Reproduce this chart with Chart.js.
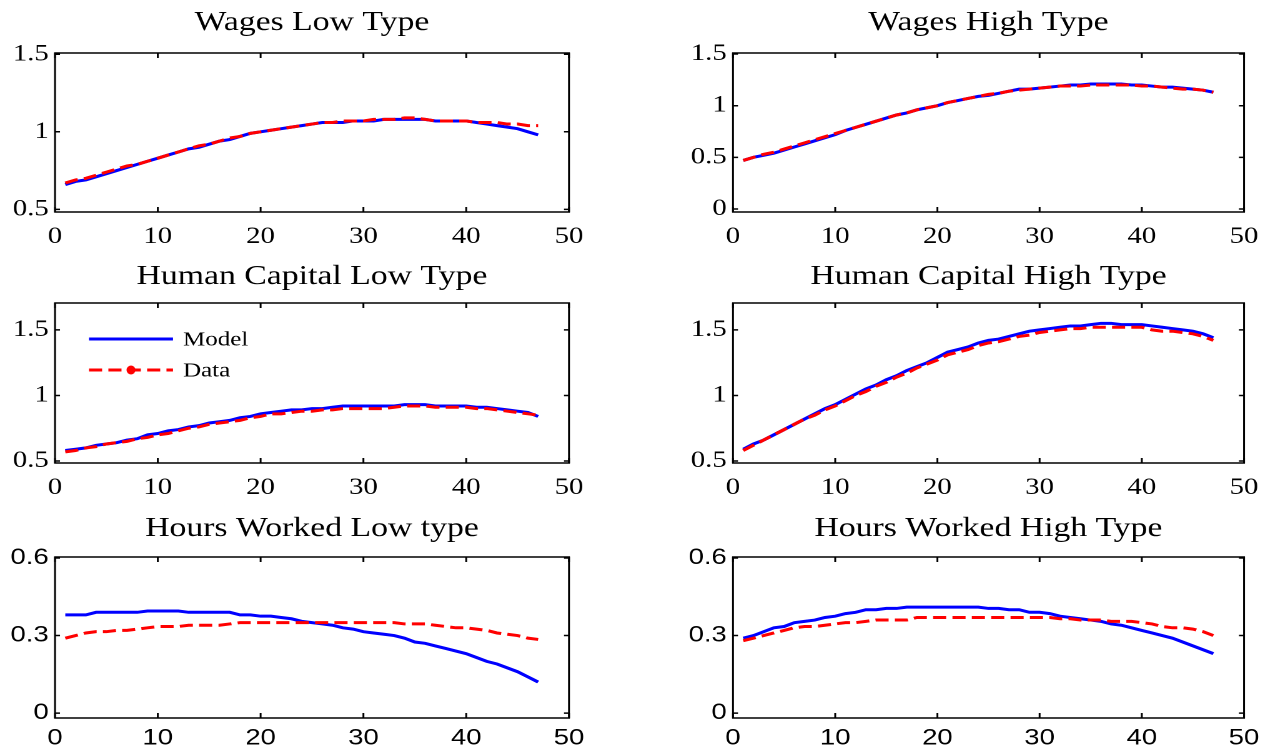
<!DOCTYPE html>
<html>
<head>
<meta charset="utf-8">
<script src="https://cdn.jsdelivr.net/npm/chart.js@4.4.1/dist/chart.umd.min.js"></script>
<style>
  html, body { margin: 0; padding: 0; background: #ffffff; }
  #fig { position: relative; width: 1273px; height: 754px; overflow: hidden; }
  #fig canvas { position: absolute; transform-origin: 0 0; }
</style>
</head>
<body>
<div id="fig"></div>
<script>
// Working-life period index
const periods = [1,2,3,4,5,6,7,8,9,10,11,12,13,14,15,16,17,18,19,20,21,22,23,24,25,26,27,28,29,30,31,32,33,34,35,36,37,38,39,40,41,42,43,44,45,46,47];
const xTicks = [0, 10, 20, 30, 40, 50];

// Wages, low type
const wagesLowModel = [0.66,0.68,0.69,0.71,0.73,0.75,0.77,0.79,0.81,0.83,0.85,0.87,0.89,0.90,0.92,0.94,0.95,0.97,0.99,1.00,1.01,1.02,1.03,1.04,1.05,1.06,1.06,1.06,1.07,1.07,1.07,1.08,1.08,1.08,1.08,1.08,1.07,1.07,1.07,1.07,1.06,1.05,1.04,1.03,1.02,1.00,0.98];
const wagesLowData  = [0.67,0.69,0.70,0.72,0.74,0.76,0.78,0.79,0.81,0.83,0.85,0.87,0.89,0.91,0.92,0.94,0.96,0.97,0.99,1.00,1.01,1.02,1.03,1.04,1.05,1.06,1.06,1.07,1.07,1.07,1.08,1.08,1.08,1.09,1.09,1.08,1.07,1.07,1.07,1.07,1.06,1.06,1.06,1.05,1.05,1.04,1.04];

// Wages, high type
const wagesHighModel = [0.47,0.50,0.52,0.54,0.57,0.60,0.63,0.66,0.69,0.72,0.76,0.79,0.82,0.85,0.88,0.91,0.93,0.96,0.98,1.00,1.03,1.05,1.07,1.09,1.10,1.12,1.14,1.16,1.16,1.17,1.18,1.19,1.20,1.20,1.21,1.21,1.21,1.21,1.20,1.20,1.19,1.18,1.18,1.17,1.16,1.15,1.13];
const wagesHighData  = [0.47,0.50,0.53,0.55,0.58,0.61,0.64,0.67,0.70,0.73,0.76,0.79,0.82,0.85,0.88,0.91,0.93,0.96,0.98,1.00,1.03,1.05,1.07,1.09,1.11,1.12,1.14,1.15,1.16,1.17,1.18,1.19,1.19,1.19,1.20,1.20,1.20,1.20,1.20,1.19,1.19,1.18,1.17,1.16,1.16,1.15,1.13];

// Human capital, low type
const capitalLowModel = [0.58,0.59,0.60,0.62,0.63,0.64,0.66,0.67,0.70,0.71,0.73,0.74,0.76,0.77,0.79,0.80,0.81,0.83,0.84,0.86,0.87,0.88,0.89,0.89,0.90,0.90,0.91,0.92,0.92,0.92,0.92,0.92,0.92,0.93,0.93,0.93,0.92,0.92,0.92,0.92,0.91,0.91,0.90,0.89,0.88,0.87,0.84];
const capitalLowData  = [0.57,0.58,0.60,0.61,0.63,0.64,0.65,0.67,0.68,0.70,0.71,0.73,0.75,0.76,0.78,0.79,0.80,0.81,0.83,0.84,0.86,0.86,0.87,0.88,0.88,0.89,0.89,0.90,0.90,0.90,0.90,0.90,0.91,0.92,0.92,0.92,0.91,0.91,0.91,0.91,0.90,0.90,0.89,0.88,0.87,0.86,0.85];

// Human capital, high type
const capitalHighModel = [0.59,0.63,0.66,0.70,0.74,0.78,0.82,0.86,0.90,0.93,0.97,1.01,1.05,1.08,1.12,1.15,1.19,1.22,1.25,1.29,1.33,1.35,1.37,1.40,1.42,1.43,1.45,1.47,1.49,1.50,1.51,1.52,1.53,1.53,1.54,1.55,1.55,1.54,1.54,1.54,1.53,1.52,1.51,1.50,1.49,1.47,1.44];
const capitalHighData  = [0.58,0.62,0.66,0.70,0.74,0.78,0.82,0.85,0.89,0.92,0.96,1.00,1.03,1.07,1.10,1.14,1.17,1.21,1.24,1.27,1.31,1.33,1.35,1.38,1.40,1.41,1.43,1.45,1.46,1.48,1.49,1.50,1.51,1.51,1.52,1.52,1.52,1.52,1.52,1.52,1.50,1.49,1.49,1.48,1.47,1.45,1.42];

// Hours worked, low type
const hoursLowModel = [0.38,0.38,0.38,0.39,0.39,0.39,0.39,0.39,0.395,0.395,0.395,0.395,0.39,0.39,0.39,0.39,0.39,0.38,0.38,0.375,0.375,0.37,0.365,0.355,0.35,0.345,0.34,0.33,0.325,0.315,0.31,0.305,0.30,0.29,0.275,0.27,0.26,0.25,0.24,0.23,0.215,0.20,0.19,0.175,0.16,0.14,0.12];
const hoursLowData  = [0.29,0.30,0.31,0.315,0.315,0.32,0.32,0.325,0.33,0.335,0.335,0.335,0.34,0.34,0.34,0.34,0.345,0.35,0.35,0.35,0.35,0.35,0.35,0.35,0.35,0.35,0.35,0.35,0.35,0.35,0.35,0.35,0.35,0.345,0.345,0.345,0.34,0.335,0.33,0.33,0.325,0.32,0.31,0.305,0.30,0.29,0.285];

// Hours worked, high type
const hoursHighModel = [0.29,0.30,0.315,0.33,0.335,0.35,0.355,0.36,0.37,0.375,0.385,0.39,0.40,0.40,0.405,0.405,0.41,0.41,0.41,0.41,0.41,0.41,0.41,0.41,0.405,0.405,0.40,0.40,0.39,0.39,0.385,0.375,0.37,0.365,0.36,0.355,0.345,0.34,0.33,0.32,0.31,0.30,0.29,0.275,0.26,0.245,0.23];
const hoursHighData  = [0.28,0.29,0.30,0.31,0.32,0.33,0.335,0.335,0.34,0.345,0.35,0.35,0.355,0.36,0.36,0.36,0.36,0.37,0.37,0.37,0.37,0.37,0.37,0.37,0.37,0.37,0.37,0.37,0.37,0.37,0.37,0.365,0.365,0.36,0.36,0.36,0.355,0.355,0.355,0.35,0.345,0.335,0.33,0.33,0.325,0.315,0.30];

// Y tick labels per panel
const yTicksWagesLow  = [0.5, 1, 1.5];
const yTicksWagesHigh = [0, 0.5, 1, 1.5];
const yTicksCapital   = [0.5, 1, 1.5];
const yTicksHours     = [0, 0.3, 0.6];

const titles = ['Wages Low Type', 'Wages High Type', 'Human Capital Low Type', 'Human Capital High Type', 'Hours Worked Low type', 'Hours Worked High Type'];
const seriesNames = ['Model', 'Data'];

const SERIF = '"Liberation Serif", "Times New Roman", serif';
const SANS = '"Liberation Sans", Arial, sans-serif';

// The figure's text is set wide: each panel is drawn narrower and widened by this factor
const STRETCH = 1.25;

// Panel placement (page px): canvas box, and chart-area edges relative to the canvas
const panels = [
  { title: titles[0], model: wagesLowModel,    data: wagesLowData,    yTicks: yTicksWagesLow,  yMin: 0.483,  yMax: 1.508, cx: 0,   cy: 0,   w: 636, h: 250, left: 55, right: 569, top: 53, bottom: 212, titleGap: 30, tickFont: SERIF, tickSize: 23, xPad: 11 },
  { title: titles[1], model: wagesHighModel,   data: wagesHighData,   yTicks: yTicksWagesHigh, yMin: -0.029, yMax: 1.51,  cx: 636, cy: 0,   w: 637, h: 250, left: 97, right: 608, top: 53, bottom: 212, titleGap: 30, tickFont: SERIF, tickSize: 23, xPad: 11 },
  { title: titles[2], model: capitalLowModel,  data: capitalLowData,  yTicks: yTicksCapital,   yMin: 0.485,  yMax: 1.705, cx: 0,   cy: 250, w: 636, h: 250, left: 55, right: 569, top: 53, bottom: 213, titleGap: 26, tickFont: SERIF, tickSize: 23, xPad: 11, legend: true },
  { title: titles[3], model: capitalHighModel, data: capitalHighData, yTicks: yTicksCapital,   yMin: 0.485,  yMax: 1.705, cx: 636, cy: 250, w: 637, h: 250, left: 97, right: 608, top: 53, bottom: 213, titleGap: 26, tickFont: SERIF, tickSize: 23, xPad: 11 },
  { title: titles[4], model: hoursLowModel,    data: hoursLowData,    yTicks: yTicksHours,     yMin: -0.019, yMax: 0.604, cx: 0,   cy: 500, w: 636, h: 254, left: 55, right: 569, top: 57, bottom: 218, titleGap: 28, tickFont: SANS,  tickSize: 22, xPad: 7 },
  { title: titles[5], model: hoursHighModel,   data: hoursHighData,   yTicks: yTicksHours,     yMin: -0.019, yMax: 0.604, cx: 636, cy: 500, w: 637, h: 254, left: 97, right: 608, top: 57, bottom: 218, titleGap: 28, tickFont: SANS,  tickSize: 22, xPad: 7 }
];

const BLUE = '#0000ff';
const RED = '#ff0000';

// Axes box, inward ticks on all four sides, the title and (optionally) the legend
const framePlugin = {
  id: 'frame',
  afterDraw(chart, args, opts) {
    const ctx = chart.ctx;
    const a = chart.chartArea;
    const xs = chart.scales.x, ys = chart.scales.y;
    const k = opts.k;
    const tlV = 5, tlH = 5 / k;
    ctx.save();
    ctx.strokeStyle = '#000';
    ctx.lineWidth = 1.5;
    ctx.strokeRect(a.left, a.top, a.right - a.left, a.bottom - a.top);
    ctx.beginPath();
    xs.ticks.forEach(t => {
      const px = xs.getPixelForValue(t.value);
      ctx.moveTo(px, a.bottom); ctx.lineTo(px, a.bottom - tlV);
      ctx.moveTo(px, a.top); ctx.lineTo(px, a.top + tlV);
    });
    ys.ticks.forEach(t => {
      const py = ys.getPixelForValue(t.value);
      ctx.moveTo(a.left, py); ctx.lineTo(a.left + tlH, py);
      ctx.moveTo(a.right, py); ctx.lineTo(a.right - tlH, py);
    });
    ctx.stroke();

    // title
    ctx.fillStyle = '#000';
    ctx.font = '27px ' + SERIF;
    ctx.textAlign = 'center';
    ctx.textBaseline = 'middle';
    ctx.fillText(opts.title, (a.left + a.right) / 2, a.top - opts.titleGap);

    // legend
    if (opts.legend) {
      const ds = chart.data.datasets;
      const x0 = a.left + 34 / k, x1 = a.left + 118 / k;
      const rows = [a.top + 36, a.top + 67];
      ctx.font = '20px ' + SERIF;
      ctx.textAlign = 'left';
      ds.forEach((d, i) => {
        const y = rows[i];
        ctx.strokeStyle = d.borderColor;
        ctx.lineWidth = d.borderWidth;
        ctx.setLineDash(d.borderDash || []);
        ctx.beginPath();
        ctx.moveTo(x0, y); ctx.lineTo(x1, y);
        ctx.stroke();
        ctx.setLineDash([]);
        if (d.legendMarker) {
          ctx.fillStyle = d.borderColor;
          ctx.beginPath();
          ctx.ellipse((x0 + x1) / 2, y, 4.5 / k, 4.5, 0, 0, Math.PI * 2);
          ctx.fill();
        }
        ctx.fillStyle = '#000';
        ctx.fillText(d.label, x1 + 10 / k, y + 1);
      });
    }
    ctx.restore();
  }
};

const fig = document.getElementById('fig');

panels.forEach(p => {
  const lw = Math.round(p.w / STRETCH);
  const k = p.w / lw;
  const canvas = document.createElement('canvas');
  canvas.width = lw;
  canvas.height = p.h;
  canvas.style.left = p.cx + 'px';
  canvas.style.top = p.cy + 'px';
  canvas.style.transform = 'scaleX(' + k + ')';
  fig.appendChild(canvas);

  const left = p.left / k, right = p.right / k;
  const toPoints = vals => periods.map((x, i) => ({ x: x, y: vals[i] }));

  new Chart(canvas, {
    type: 'line',
    data: {
      datasets: [
        { label: seriesNames[0], data: toPoints(p.model), borderColor: BLUE, borderWidth: 3, pointRadius: 0, tension: 0, order: 1, borderCapStyle: 'butt' },
        { label: seriesNames[1], data: toPoints(p.data), borderColor: RED, borderWidth: 3, borderDash: [10.5, 5], pointRadius: 0, tension: 0, order: 0, legendMarker: true, borderCapStyle: 'butt' }
      ]
    },
    options: {
      responsive: false,
      animation: false,
      devicePixelRatio: 2,
      events: [],
      layout: { padding: { top: p.top, right: lw - right, left: 0, bottom: 0 } },
      plugins: {
        legend: { display: false },
        title: { display: false },
        tooltip: { enabled: false },
        frame: { title: p.title, legend: !!p.legend, titleGap: p.titleGap, k: k }
      },
      scales: {
        x: {
          type: 'linear', min: 0, max: 50,
          afterBuildTicks: s => { s.ticks = xTicks.map(v => ({ value: v })); },
          afterFit: s => { s.height = p.h - p.bottom; s.paddingLeft = 0; s.paddingRight = 0; },
          grid: { display: false, drawTicks: false },
          border: { display: false },
          ticks: { color: '#000', font: { family: p.tickFont, size: p.tickSize }, padding: p.xPad, maxRotation: 0, autoSkip: false, callback: v => String(v) }
        },
        y: {
          type: 'linear', min: p.yMin, max: p.yMax,
          afterBuildTicks: s => { s.ticks = p.yTicks.map(v => ({ value: v })); },
          afterFit: s => { s.width = left; s.paddingTop = 0; s.paddingBottom = 0; },
          grid: { display: false, drawTicks: false },
          border: { display: false },
          ticks: { color: '#000', font: { family: p.tickFont, size: p.tickSize }, padding: 5, autoSkip: false, callback: v => String(v) }
        }
      }
    },
    plugins: [framePlugin]
  });
});
</script>
</body>
</html>
